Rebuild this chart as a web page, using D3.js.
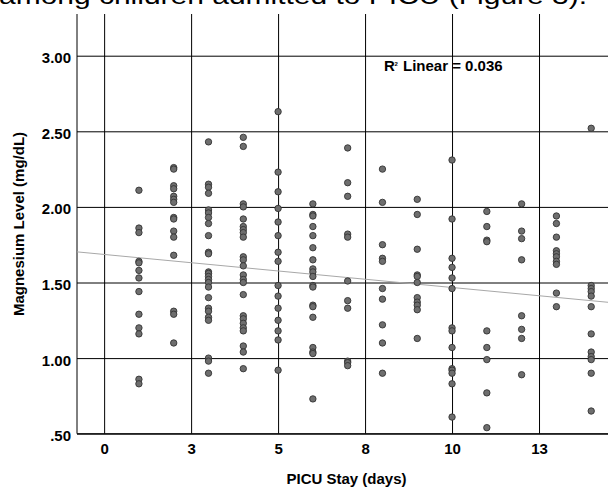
<!DOCTYPE html>
<html lang="en">
<head>
<meta charset="UTF-8">
<title>Magnesium vs PICU stay</title>
<script src="https://d3js.org/d3.v7.min.js"></script>
<style>
    body { margin: 0; background: #fff; }
    svg { display: block; font-family: "Liberation Sans", Arial, sans-serif; }
    .tick text { font-size: 15px; font-weight: bold; fill: #000; }
    .tick line { stroke: #000; }
    .lbl { font-size: 15px; font-weight: bold; fill: #000; }
</style>
</head>
<body>
<svg width="608" height="489"></svg>
<script>
// days of PICU stay (one column of dots per day)
const days = [1, 2, 3, 4, 5, 6, 7, 8, 9, 10, 11, 12, 13, 14];

// magnesium level (mg/dL) for each day
const magnesium = [
    [2.11, 1.86, 1.83, 1.64, 1.63, 1.58, 1.53, 1.44, 1.29, 1.20, 1.16, 0.86, 0.83],
    [2.26, 2.25, 2.14, 2.12, 2.07, 2.05, 2.03, 1.93, 1.92, 1.84, 1.80, 1.68, 1.31, 1.29, 1.10],
    [2.43, 2.15, 2.13, 2.09, 1.98, 1.96, 1.93, 1.89, 1.81, 1.70, 1.69, 1.57, 1.56, 1.54, 1.52, 1.50, 1.47, 1.40, 1.33, 1.31, 1.27, 1.25, 1.00, 0.98, 0.90],
    [2.46, 2.40, 2.02, 2.00, 1.92, 1.87, 1.85, 1.83, 1.80, 1.67, 1.65, 1.61, 1.55, 1.52, 1.50, 1.42, 1.28, 1.26, 1.23, 1.20, 1.18, 1.08, 1.04, 0.93],
    [2.63, 2.23, 2.10, 1.99, 1.90, 1.81, 1.70, 1.64, 1.48, 1.41, 1.33, 1.25, 1.18, 1.12, 0.92],
    [2.02, 1.95, 1.94, 1.87, 1.81, 1.73, 1.65, 1.59, 1.57, 1.54, 1.48, 1.47, 1.35, 1.34, 1.27, 1.07, 1.04, 1.03, 0.73],
    [2.39, 2.16, 2.07, 1.82, 1.80, 1.51, 1.38, 1.33, 0.98, 0.97, 0.95],
    [2.25, 2.03, 1.75, 1.66, 1.64, 1.46, 1.39, 1.22, 1.10, 0.90],
    [2.05, 1.95, 1.72, 1.55, 1.54, 1.50, 1.40, 1.37, 1.35, 1.32, 1.13],
    [2.31, 1.92, 1.66, 1.60, 1.53, 1.46, 1.20, 1.18, 1.07, 0.93, 0.92, 0.90, 0.83, 0.61],
    [1.97, 1.87, 1.78, 1.77, 1.18, 1.07, 0.99, 0.77, 0.54],
    [2.02, 1.84, 1.79, 1.65, 1.28, 1.19, 1.13, 0.89],
    [1.94, 1.89, 1.80, 1.71, 1.69, 1.67, 1.64, 1.62, 1.43, 1.34],
    [2.52, 1.48, 1.46, 1.44, 1.41, 1.34, 1.16, 1.04, 1.01, 0.99, 0.90, 0.65]
];

const xTickValues = [0, 2.5, 5, 7.5, 10, 12.5];
const xTickLabels = ["0", "3", "5", "8", "10", "13"];
const yTickValues = [3.0, 2.5, 2.0, 1.5, 1.0, 0.5];
const yTickLabels = ["3.00", "2.50", "2.00", "1.50", "1.00", ".50"];
const rSquaredLabel = "0.036";

const svg = d3.select("svg");
const plotLeft = 77, plotTop = 14, plotBottom = 433.7, plotRight = 626;

const x = d3.scaleLinear().domain([-0.78, 15]).range([plotLeft, plotRight]);
const y = d3.scaleLinear().domain([0.5, 3.0]).range([plotBottom, 55.7]);

// flat point list
const points = [];
days.forEach((d, i) => magnesium[i].forEach(v => points.push({ day: d, mg: v })));

// gridlines + labels through axes
const xAxis = svg.append("g")
    .attr("transform", `translate(0,${plotBottom})`)
    .call(d3.axisBottom(x)
        .tickValues(xTickValues)
        .tickFormat((d, i) => xTickLabels[i])
        .tickSizeInner(-(plotBottom - plotTop))
        .tickSizeOuter(0)
        .tickPadding(10));
xAxis.select(".domain").remove();

const yAxis = svg.append("g")
    .attr("transform", `translate(${plotLeft},0)`)
    .call(d3.axisLeft(y)
        .tickValues(yTickValues)
        .tickFormat((d, i) => yTickLabels[i])
        .tickSizeInner(-(plotRight - plotLeft))
        .tickSizeOuter(0)
        .tickPadding(6));
yAxis.select(".domain").remove();
yAxis.selectAll(".tick text").attr("dy", "0.46em");

// frame (left + bottom)
svg.append("line").attr("x1", plotLeft).attr("x2", plotLeft).attr("y1", plotTop).attr("y2", plotBottom).attr("stroke", "#000");
svg.append("line").attr("x1", plotLeft).attr("x2", plotRight).attr("y1", plotBottom).attr("y2", plotBottom).attr("stroke", "#000");

// linear fit
const mx = d3.mean(points, p => p.day), my = d3.mean(points, p => p.mg);
const slope = d3.sum(points, p => (p.day - mx) * (p.mg - my)) / d3.sum(points, p => (p.day - mx) ** 2);
const intercept = my - slope * mx;
const xd = x.domain();
svg.append("line")
    .attr("x1", x(xd[0])).attr("y1", y(intercept + slope * xd[0]))
    .attr("x2", x(xd[1])).attr("y2", y(intercept + slope * xd[1]))
    .attr("stroke", "#a8a8a8")
    .attr("stroke-width", 1);

// dots
svg.append("g").selectAll("circle")
    .data(points)
    .join("circle")
    .attr("cx", p => x(p.day))
    .attr("cy", p => y(p.mg))
    .attr("r", 3.2)
    .attr("fill", "#6e6e6e")
    .attr("stroke", "#333")
    .attr("stroke-width", 0.9);

// R² label
svg.append("text").attr("class", "lbl").attr("x", 384).attr("y", 71).text("R");
svg.append("text").attr("class", "lbl").attr("x", 394.5).attr("y", 66).style("font-size", "6px").text("2");
svg.append("text").attr("class", "lbl").attr("x", 403).attr("y", 71).text("Linear = " + rSquaredLabel);

// axis titles
svg.append("text")
    .attr("class", "lbl")
    .attr("x", 346.5).attr("y", 484)
    .attr("text-anchor", "middle")
    .text("PICU Stay (days)");
svg.append("text")
    .attr("class", "lbl")
    .attr("transform", "translate(24,224) rotate(-90)")
    .attr("text-anchor", "middle")
    .text("Magnesium Level (mg/dL)");

// strip of page text above the chart
svg.append("rect").attr("x", 0).attr("y", 0).attr("width", 608).attr("height", plotTop).attr("fill", "#fff");
svg.append("text")
    .attr("x", -1).attr("y", 4)
    .attr("font-size", 24)
    .attr("textLength", 588)
    .attr("lengthAdjust", "spacingAndGlyphs")
    .text("among children admitted to PICU (Figure 3).");
</script>
</body>
</html>
